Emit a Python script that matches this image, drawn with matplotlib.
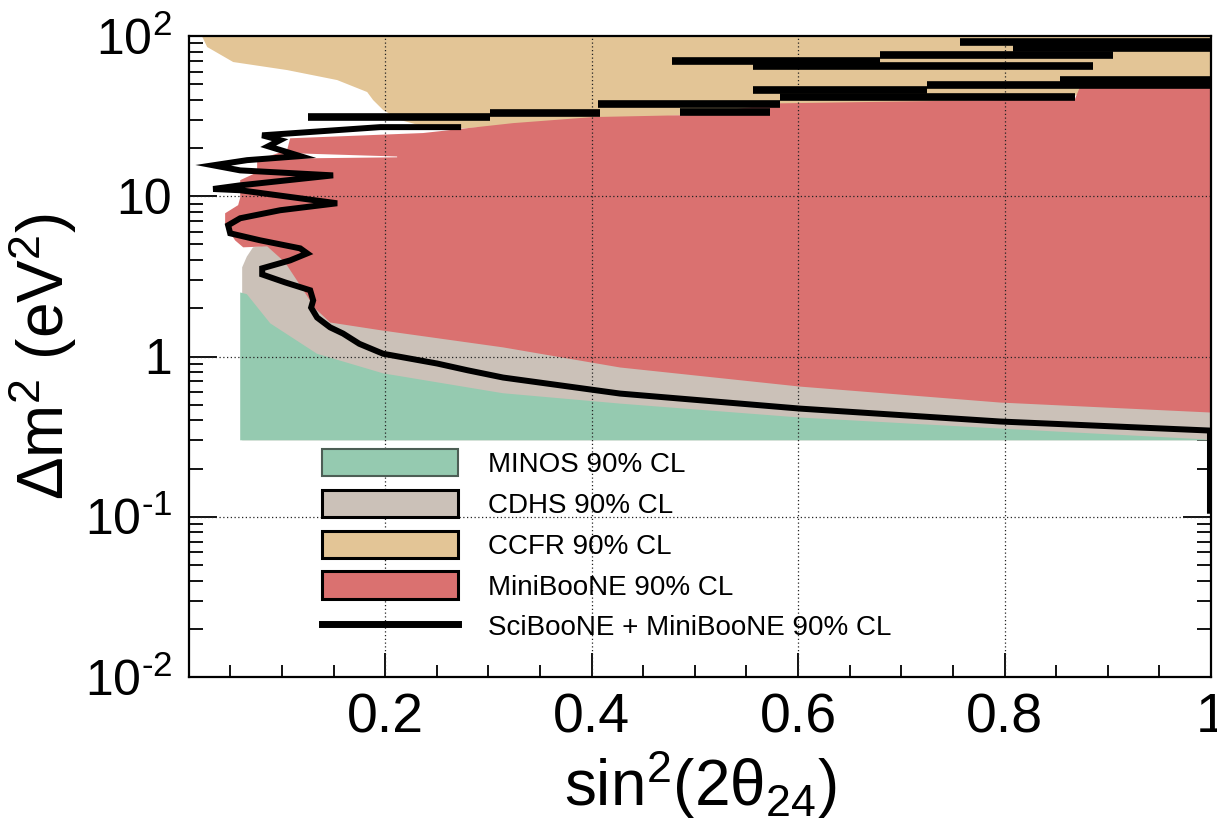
import matplotlib.pyplot as plt
import numpy as np
from matplotlib.patches import Patch
from matplotlib.lines import Line2D
from matplotlib.ticker import MultipleLocator, LogLocator, NullFormatter

plt.rcParams['font.family'] = ['Liberation Sans', 'DejaVu Sans']
plt.rcParams['mathtext.fontset'] = 'custom'
plt.rcParams['mathtext.rm'] = 'Liberation Sans'
plt.rcParams['mathtext.it'] = 'Liberation Sans:italic'
plt.rcParams['mathtext.default'] = 'regular'

# MINOS 90% CL region
minos_x = [0.0596, 0.0596, 0.066, 0.0887, 0.134, 0.198, 0.314, 0.428, 0.602, 0.796, 0.99, 1.0]
minos_y = [0.30, 2.51, 2.45, 1.61, 1.04, 0.785, 0.59, 0.508, 0.416, 0.355, 0.305, 0.30]

# CDHS 90% CL region (upper part hidden below MiniBooNE)
cdhs_x = [0.0615, 0.0615, 0.066, 0.072, 0.090, 1.0, 1.0]
cdhs_y = [0.30, 3.6, 4.2, 4.8, 5.0, 5.0, 0.30]

# CCFR 90% CL region
ccfr_x = [0.0200, 0.0228, 0.0276, 0.0528, 0.105, 0.1535, 0.1826, 0.1884, 0.1981,
          0.2145, 0.2504, 0.4276, 1.0, 1.0]
ccfr_y = [100, 99, 85.4, 68.8, 61.3, 53.1, 44.7, 39.8, 34.5,
          29.9, 25.9, 30.6, 47.0, 100]

# MiniBooNE 90% CL region
mb_x = [1.0, 0.7956, 0.6019, 0.4276, 0.3143, 0.1981, 0.1467, 0.132, 0.1177, 0.103,
        0.0857, 0.0625, 0.0547, 0.045, 0.045, 0.0576, 0.0596, 0.0596, 0.076, 0.076,
        0.105, 0.108, 0.2368, 0.324, 0.4014, 0.4954, 0.5826, 0.8683, 0.873, 1.0]
mb_y = [0.447, 0.516, 0.649, 0.854, 1.14, 1.45, 1.63, 2.0, 2.78, 3.87,
        4.87, 4.8, 5.3, 6.6, 7.83, 8.8, 9.8, 12.6, 14.1, 16.8,
        19.4, 23.0, 24.8, 28.6, 31.2, 32.1, 38.0, 40.5, 48.0, 48.5]

# thin white gap inside MiniBooNE region
gap_x = [0.105, 0.2116, 0.2116, 0.105]
gap_y = [18.6, 17.7, 17.5, 17.2]

# SciBooNE + MiniBooNE 90% CL contour
sci_x = [0.999, 0.999, 0.7956, 0.6019, 0.4276, 0.37, 0.3143, 0.28, 0.2504, 0.1981,
         0.175, 0.1593, 0.1467, 0.1341, 0.1283, 0.1303, 0.1274, 0.1031, 0.0809, 0.0809,
         0.108, 0.1245, 0.1177, 0.0789, 0.0499, 0.0479, 0.0596, 0.0983, 0.1535, 0.0596,
         0.0334, 0.0596, 0.1496, 0.0596, 0.0334, 0.0663, 0.1177, 0.0867, 0.0983, 0.0809,
         0.1952, 0.2707]
sci_y = [0.109, 0.345, 0.393, 0.473, 0.587, 0.66, 0.739, 0.82, 0.904, 1.04,
         1.20, 1.39, 1.52, 1.75, 2.02, 2.24, 2.59, 2.90, 3.25, 3.55,
         3.98, 4.40, 4.73, 5.31, 5.87, 6.59, 7.29, 8.18, 9.04, 10.9,
         11.1, 11.7, 13.5, 14.5, 15.6, 16.8, 17.8, 20.5, 22.4, 24.0,
         27.0, 27.0]

# horizontal strokes of the same contour at high dm^2
bar_x0 = [0.1254, 0.3017, 0.4063, 0.4857, 0.5826, 0.5564, 0.7249, 0.8538, 0.4780,
          0.6794, 0.8082, 0.5564, 0.7569]
bar_x1 = [0.3017, 0.4082, 0.5826, 0.5730, 0.8683, 0.7249, 1.0, 1.0, 0.6794,
          0.9050, 1.0, 0.8857, 1.0]
bar_y = [31.2, 33.0, 37.6, 33.5, 41.6, 46.0, 49.4, 53.1, 69.8,
         76.1, 84.1, 64.9, 92.0]

labels = ['MINOS 90% CL', 'CDHS 90% CL', 'CCFR 90% CL', 'MiniBooNE 90% CL',
          'SciBooNE + MiniBooNE 90% CL']
c_minos, c_cdhs, c_ccfr, c_mb = '#95cab0', '#cbc1b8', '#e3c596', '#da7170'

xticks = [0.2, 0.4, 0.6, 0.8, 1.0]
xticklabels = ['0.2', '0.4', '0.6', '0.8', '1']
yticks = [0.01, 0.1, 1, 10, 100]
yticklabels = ['10$^{\u2010 2}$', '10$^{\u2010 1}$', '1', '10', '10$^{2}$']

fig = plt.figure(figsize=(12.17, 8.19), dpi=100)
ax = fig.add_axes([189 / 1217, 1 - 677 / 819, 1022 / 1217, 641 / 819])
ax.set_yscale('log')
ax.set_xlim(0.01, 1.0)
ax.set_ylim(0.01, 100)

ax.fill(ccfr_x, ccfr_y, color=c_ccfr, lw=0, zorder=2.6)
ax.fill(cdhs_x, cdhs_y, color=c_cdhs, lw=0, zorder=2.6)
ax.fill(minos_x, minos_y, color=c_minos, lw=0, zorder=2.6)
ax.fill(mb_x, mb_y, color=c_mb, lw=0, zorder=2.6)
ax.fill(gap_x, gap_y, color='white', lw=0, zorder=2.6)

for xv in xticks[:-1]:
    ax.axvline(xv, color='#222222', lw=0.9, ls=(0, (1, 2)), zorder=2.7)
for yv in yticks[1:-1]:
    ax.axhline(yv, color='#222222', lw=0.9, ls=(0, (1, 2)), zorder=2.7)

ax.plot(sci_x, sci_y, color='black', lw=4.3, zorder=3, solid_joinstyle='miter')
ax.hlines(bar_y, bar_x0, bar_x1, color='black', lw=5.5, zorder=3)

ax.set_xticks(xticks, xticklabels)
ax.set_yticks(yticks, yticklabels)
ax.xaxis.set_minor_locator(MultipleLocator(0.05))
ax.yaxis.set_minor_locator(LogLocator(base=10, subs=np.arange(2, 10)))
ax.yaxis.set_minor_formatter(NullFormatter())
ax.tick_params(axis='both', which='both', direction='in', top=False, right=True,
               width=1.3, color='black')
ax.tick_params(axis='x', labelsize=40)
ax.tick_params(axis='y', labelsize=36)
ax.tick_params(axis='y', which='major', length=20, pad=12)
ax.tick_params(axis='y', which='minor', length=10)
ax.tick_params(axis='x', which='major', length=17, pad=11)
ax.tick_params(axis='x', which='minor', length=9)
for s in ax.spines.values():
    s.set_linewidth(1.6)
    s.set_zorder(3.5)

ax.set_xlabel('sin$^{2}$(2θ$_{24}$)', fontsize=46, labelpad=3)
ax.set_ylabel('Δm$^{2}$ (eV$^{2}$)', fontsize=46, labelpad=4)

handles = [Patch(facecolor=c_minos, edgecolor='#4d5e55', lw=1.5),
           Patch(facecolor=c_cdhs, edgecolor='black', lw=2.2),
           Patch(facecolor=c_ccfr, edgecolor='black', lw=2.2),
           Patch(facecolor=c_mb, edgecolor='black', lw=2.2),
           Line2D([], [], color='black', lw=5)]
ax.legend(handles, labels, loc='upper left', bbox_to_anchor=(0.130, 0.356),
          frameon=False, fontsize=20, handlelength=4.9, handleheight=1.15,
          labelspacing=0.42, handletextpad=1.08, borderpad=0, borderaxespad=0)

fig.savefig('out.png', dpi=100)
